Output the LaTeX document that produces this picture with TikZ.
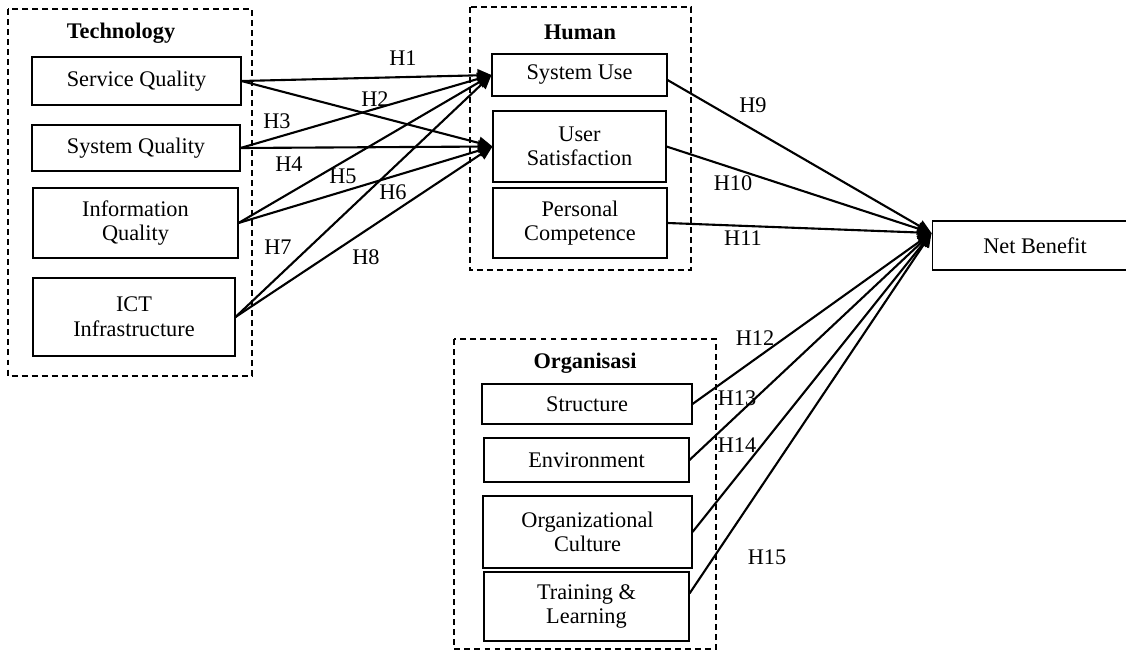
\documentclass[tikz,border=0pt]{standalone}
\usepackage{fontspec}
\setmainfont{Liberation Serif}
\usetikzlibrary{calc,arrows.meta}

\begin{document}
\begin{tikzpicture}[x=0.02cm,y=-0.02cm,
    font=\fontsize{12.7}{14}\selectfont,
    box/.style={draw,line width=0.6pt,align=center,inner sep=0pt},
    group/.style={draw,line width=0.9pt,dash pattern=on 3.4pt off 2.3pt},
    title/.style={font=\fontsize{12.7}{14}\selectfont\bfseries},
    hyp/.style={line width=1.2pt,-{Triangle[length=8pt,width=7pt]}}]

    \useasboundingbox (0,0) rectangle (1126,652);

    \draw[group] (8,9) rectangle (252,376);
    \draw[group] (470,7) rectangle (691,270);
    \draw[group] (454,339) rectangle (716,649);

    \node[title] (tech) at (121,33) {Technology};
    \node[title] (human) at (580,32) {Human};
    \node[title] (org) at (585,363) {Organisasi};

    \node[box,minimum width=4.18cm,minimum height=0.96cm] (sq) at (136.5,81) {Service Quality};
    \node[box,minimum width=4.16cm,minimum height=0.92cm] (sysq) at (136,148) {System Quality};
    \node[box,minimum width=4.10cm,minimum height=1.40cm] (iq) at (135.5,223) {Information\\Quality};
    \node[box,minimum width=4.04cm,minimum height=1.56cm] (ict) at (134,317) {ICT\\Infrastructure};

    \node[box,minimum width=3.50cm,minimum height=0.84cm] (su) at (579.5,75) {System Use};
    \node[box,minimum width=3.46cm,minimum height=1.42cm] (us) at (579.5,146.5) {User\\Satisfaction};
    \node[box,minimum width=3.48cm,minimum height=1.40cm] (pc) at (580,223) {Personal\\Competence};

    \node[box,minimum width=4.20cm,minimum height=0.80cm] (str) at (587,404) {Structure};
    \node[box,minimum width=4.10cm,minimum height=0.88cm] (env) at (586.5,460) {Environment};
    \node[box,minimum width=4.18cm,minimum height=1.44cm] (oc) at (587.5,532) {Organizational\\Culture};
    \node[box,minimum width=4.10cm,minimum height=1.38cm] (tl) at (586.5,606.5) {Training \&\\Learning};

    \node[box,minimum width=4.12cm,minimum height=0.98cm] (nb) at (1035,245.5) {Net Benefit};
    \coordinate (nbin) at ($(nb.north west)!0.25!(nb.south west)$);

    \foreach \a/\b in {sq/su,sq/us,sysq/su,sysq/us,iq/su,iq/us,ict/su,ict/us} {
    \draw[hyp] (\a.east)--(\b.west);}

    \draw[hyp] ($(su.east)+(0,5)$)--(nbin);
    \foreach \a in {us,pc,str,env,oc} {
    \draw[hyp] (\a.east)--(nbin);}
    \draw[hyp] ($(tl.east)+(0,-13)$)--(nbin);

    \foreach \t/\x/\y in {1/403/58,2/375/99,3/277/121,4/289/164,5/343/176,6/393/192,7/278/247,8/366/257,
        9/753/105,10/733/183,11/743/238,12/755/338,13/737/398,14/737/445,15/767/557} {
    \node (h\t) at (\x,\y) {H\t};}

\end{tikzpicture}
\end{document}
